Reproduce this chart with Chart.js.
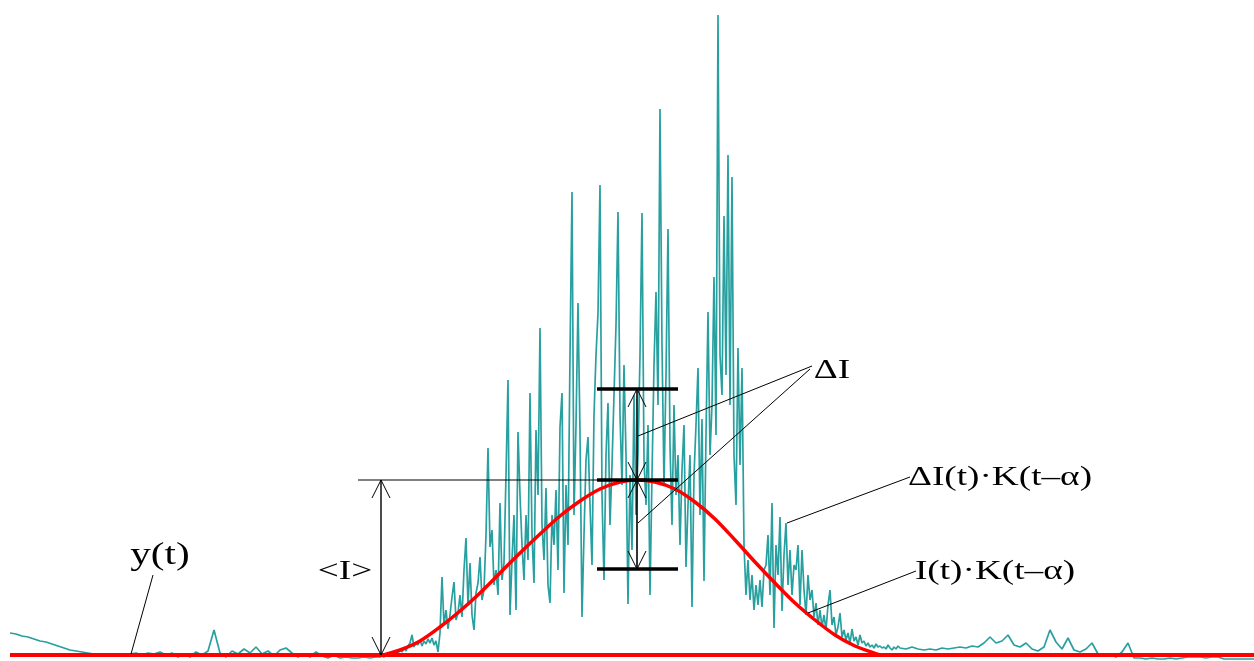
<!DOCTYPE html>
<html>
<head>
<meta charset="utf-8">
<script src="https://cdn.jsdelivr.net/npm/chart.js@4/dist/chart.umd.min.js"></script>
<style>
  html, body { margin: 0; padding: 0; background: #fff; }
  #wrap { width: 1254px; height: 661px; position: relative; }
</style>
</head>
<body>
<div id="wrap"><canvas id="chart"></canvas></div>
<script>
// y(t) signal in three pieces
// left tail: t = 10..376 every 6
const tailLeft = [22, 21, 19, 18, 16, 14, 13, 11, 9, 7, 5, 4, 3, 2, 1, 1, 0, 1, 0, 0,
  1, 2, 0, 2, 1, 3, 0, 2, -2, 1, -2, 3, 0, 4, 25, 2, -2, 4, 1, 6,
  2, 8, 1, 4, -1, 5, 7, 2, -2, 1, -2, 3, -1, -3, 0, -3, -2, -3, -3, -2,
  -3, -2];
// pulse: t = 380..900 every 2
const pulse = [-2, -1, -2, 0, 1, -1, 2, 1, 4, 2, 5, 3, 7, 4, 9, 12, 20, 8, 13, 10,
  15, 9, 14, 11, 16, 12, 17, 10, 14, 3, 22, 78, 30, 45, 26, 40, 58, 73, 35, 42,
  60, 38, 85, 117, 50, 92, 40, 25, 62, 72, 98, 55, 65, 120, 207, 108, 125, 70, 85, 60,
  152, 75, 92, 180, 275, 40, 95, 140, 45, 223, 160, 110, 75, 140, 95, 262, 120, 72, 225, 160,
  327, 130, 95, 167, 70, 52, 140, 110, 165, 85, 228, 262, 62, 170, 110, 300, 463, 140, 230, 352,
  222, 38, 120, 195, 218, 150, 90, 240, 300, 342, 470, 160, 75, 200, 252, 130, 190, 260, 330, 443,
  240, 170, 290, 200, 51, 180, 105, 260, 140, 200, 300, 442, 195, 150, 230, 60, 180, 290, 363, 250,
  546, 310, 170, 280, 426, 210, 130, 250, 160, 200, 110, 185, 230, 88, 150, 200, 48, 180, 230, 287,
  140, 236, 74, 220, 343, 200, 250, 378, 220, 640, 300, 260, 439, 280, 500, 250, 478, 200, 150, 307,
  190, 287, 110, 60, 95, 55, 80, 45, 70, 50, 75, 48, 85, 90, 120, 60, 152, 27, 110, 80,
  138, 44, 100, 132, 70, 105, 60, 90, 85, 110, 50, 105, 65, 40, 80, 55, 65, 38, 52, 30,
  45, 28, 40, 25, 50, 65, 30, 38, 20, 28, 42, 18, 25, 15, 22, 12, 26, 14, 18, 10,
  20, 12, 14, 9, 12, 8, 10, 7, 11, 8, 9, 7, 8, 6, 10, 7, 5, 8, 6, 9,
  7];
// right tail: t = 906..1254 every 6
const tailRight = [6, 8, 6, 5, 6, 5, 7, 6, 7, 8, 7, 9, 8, 12, 18, 12, 14, 20, 10, 8,
  12, 6, 4, 8, 25, 13, 6, 17, 5, 3, 6, 12, 1, -1, 0, -2, 3, 12, -3, -3,
  -4, -3, -4, -4, -3, -4, -3, -2, -2, -2, -3, -2, -2, -4, -4, -4, -4, -4, -4];

// I(t)·K(t–α), the smooth mean curve
const meanT = [383, 400, 420, 440, 460, 480, 500, 520, 540, 560, 580, 600, 620, 637,
  655, 675, 695, 715, 735, 755, 775, 795, 815, 835, 855, 880];
const meanI = [0, 5, 14, 28, 44, 62, 82, 102, 121, 139, 154, 166, 173, 175,
  173, 166, 153, 136, 115, 93, 72, 52, 35, 20, 9, 0];

// baseline
const baseT = [10, 1254];
const baseI = [0, 0];

function piece(values, t0, step) {
  return values.map((v, i) => ({ x: t0 + i * step, y: v }));
}
const signal = [
  ...piece(tailLeft, 10, 6),
  ...piece(pulse, 380, 2),
  ...piece(tailRight, 906, 6)
];

// annotation geometry in data units (t, I)
const peakT = 637, peakI = 175;
const dIup = 91, dIdown = 89;

const annotations = {
  id: 'annotations',
  afterDatasetsDraw(chart) {
    const { ctx, scales: { x, y } } = chart;
    const X = t => x.getPixelForValue(t);
    const Y = v => y.getPixelForValue(v);
    ctx.save();
    ctx.strokeStyle = '#000';
    ctx.fillStyle = '#000';

    function line(t1, v1, t2, v2, w) {
      ctx.lineWidth = w;
      ctx.beginPath();
      ctx.moveTo(X(t1), Y(v1));
      ctx.lineTo(X(t2), Y(v2));
      ctx.stroke();
    }
    // open arrow head at (t, v); dir=-1 points up, dir=1 points down
    function head(t, v, dir) {
      const px = X(t), py = Y(v);
      ctx.lineWidth = 1;
      ctx.beginPath();
      ctx.moveTo(px - 9, py - dir * 18);
      ctx.lineTo(px, py);
      ctx.lineTo(px + 9, py - dir * 18);
      ctx.stroke();
    }
    function label(text, t, v, size) {
      ctx.save();
      ctx.translate(X(t), Y(v));
      ctx.scale(1.33, 1);
      ctx.font = size + 'px "Liberation Serif", "Times New Roman", serif';
      ctx.textAlign = 'center';
      ctx.textBaseline = 'middle';
      ctx.fillText(text, 0, 0);
      ctx.restore();
    }

    // <I> dimension
    line(358, peakI, 597, peakI, 1.2);
    line(381, 0, 381, peakI, 1.4);
    head(381, peakI, -1);
    head(381, 0, 1);

    // ΔI bars and arrows
    const top = peakI + dIup, bot = peakI - dIdown;
    line(597, top, 678, top, 3.5);
    line(597, peakI, 678, peakI, 3.5);
    line(597, bot, 678, bot, 3.5);
    line(peakT, bot, peakT, top, 1.6);
    head(peakT, top, -1);
    head(peakT, peakI, 1);
    head(peakT, peakI, -1);
    head(peakT, bot, 1);

    // leaders
    line(153, 80, 131, 1, 1);
    line(812, 289, 638, 219, 1);
    line(810, 286, 638, 132, 1);
    line(910, 178, 787, 132, 1);
    line(916, 84, 808, 42, 1);

    // labels
    label('y(t)', 160, 99, 31);
    label('<I>', 345, 83, 28);
    label('\u0394I', 832, 284, 28);
    label('\u0394I(t)\u00b7K(t\u2013\u03b1)', 1000, 177, 28);
    label('I(t)\u00b7K(t\u2013\u03b1)', 995, 83, 28);
    ctx.restore();
  }
};

new Chart(document.getElementById('chart'), {
  type: 'scatter',
  data: {
    datasets: [
      {
        label: 'y(t)',
        data: signal,
        showLine: true,
        borderColor: 'rgba(18, 150, 150, 0.9)',
        borderWidth: 1.7,
        borderJoinStyle: 'bevel',
        pointRadius: 0,
        order: 3
      },
      {
        label: 'baseline',
        data: baseT.map((t, i) => ({ x: t, y: baseI[i] })),
        showLine: true,
        borderColor: '#ff0000',
        borderWidth: 4,
        pointRadius: 0,
        order: 2
      },
      {
        label: 'I(t)·K(t–α)',
        data: meanT.map((t, i) => ({ x: t, y: meanI[i] })),
        showLine: true,
        borderColor: '#ff0000',
        borderWidth: 3.5,
        cubicInterpolationMode: 'monotone',
        pointRadius: 0,
        order: 1
      }
    ]
  },
  options: {
    responsive: true,
    maintainAspectRatio: false,
    animation: false,
    layout: { padding: 0 },
    plugins: { legend: { display: false }, tooltip: { enabled: false } },
    scales: {
      x: { type: 'linear', min: 0, max: 1254, display: false },
      y: { type: 'linear', min: -6, max: 655, display: false }
    }
  },
  plugins: [annotations]
});
</script>
</body>
</html>
